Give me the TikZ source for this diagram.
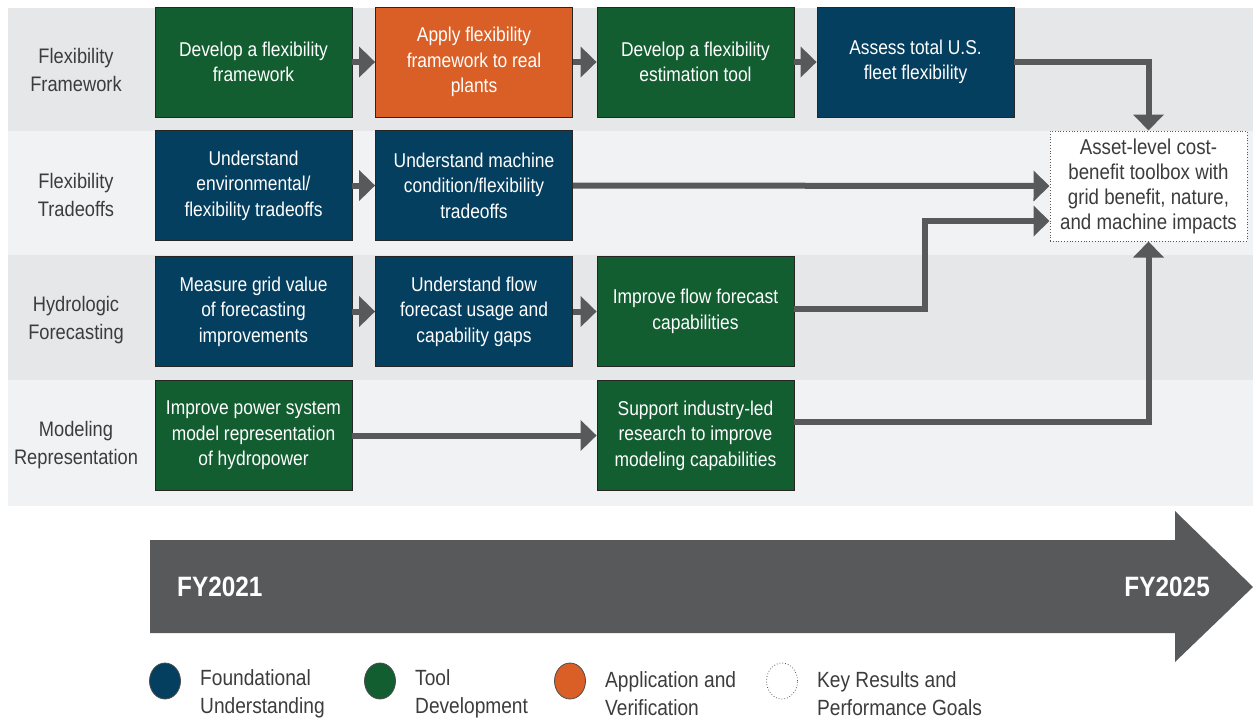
\documentclass[tikz,border=0pt]{standalone}
\usepackage{fontspec}
\setmainfont{Liberation Sans}[FakeStretch=0.87]
\usetikzlibrary{arrows.meta,shapes}
\definecolor{bandDark}{HTML}{E6E7E9}
\definecolor{bandLight}{HTML}{F1F2F4}
\definecolor{foundBlue}{HTML}{053F5F}
\definecolor{toolGreen}{HTML}{125E31}
\definecolor{applyOrange}{HTML}{D95F27}
\definecolor{flowGray}{HTML}{58595B}
\definecolor{textGray}{HTML}{3C3C3C}

\begin{document}
\begin{tikzpicture}[x=1pt, y=-1pt,
		task/.style={draw=black!85, line width=0.8pt, minimum width=197pt, minimum height=110pt, inner sep=0pt, align=center, text=white, font=\fontsize{20}{25.5}\selectfont},
		found/.style={task, fill=foundBlue},
		tool/.style={task, fill=toolGreen},
		apply/.style={task, fill=applyOrange},
		goal/.style={task, fill=white, draw=flowGray, dotted, line width=1pt, text=textGray, font=\fontsize{21.5}{25}\selectfont},
		rowlabel/.style={align=center, text=textGray, font=\fontsize{21}{28}\selectfont},
		flow/.style={draw=flowGray, line width=6pt, -{Triangle[length=16pt,width=30pt]}},
		dot/.style={ellipse, minimum width=31pt, minimum height=36pt, inner sep=0pt, draw=black!70, line width=0.8pt},
		keytext/.style={anchor=west, align=left, text=textGray, font=\fontsize{22}{28}\selectfont, inner sep=0pt},
		year/.style={text=white, inner sep=0pt, font=\fontsize{28}{30}\selectfont\bfseries}
	]
		\useasboundingbox (0,0) rectangle (1253,721);
		\fill[bandDark] (8,8) rectangle (1253,131);
		\fill[bandLight] (8,131) rectangle (1253,255);
		\fill[bandDark] (8,255) rectangle (1253,380);
		\fill[bandLight] (8,380) rectangle (1253,506);

		\node[rowlabel] (FrameworkLabel) at (76,70) {Flexibility\\Framework};
		\node[rowlabel] (TradeoffsLabel) at (76,195) {Flexibility\\Tradeoffs};
		\node[rowlabel] (ForecastLabel) at (76,320) {Hydrologic\\Forecasting};
		\node[rowlabel] (ModelingLabel) at (76,445) {Modeling\\Representation};

		\node[tool] (DevelopFramework) at (253.5,62) {Develop a flexibility\\framework};
		\node[apply] (ApplyFramework) at (474,62) {Apply flexibility\\framework to real\\plants};
		\node[tool] (EstimationTool) at (695.5,62) {Develop a flexibility\\estimation tool};
		\node[found] (AssessFleet) at (915.5,62) {Assess total U.S.\\fleet flexibility};

		\node[found] (EnvTradeoffs) at (253.5,185.5) {Understand\\environmental/\\flexibility tradeoffs};
		\node[found] (MachineTradeoffs) at (474,185.5) {Understand machine\\condition/flexibility\\tradeoffs};

		\node[found] (GridValue) at (253.5,311.5) {Measure grid value\\of forecasting\\improvements};
		\node[found] (FlowUsage) at (474,311.5) {Understand flow\\forecast usage and\\capability gaps};
		\node[tool] (FlowForecast) at (695.5,311.5) {Improve flow forecast\\capabilities};

		\node[tool] (PowerModel) at (253.5,435.5) {Improve power system\\model representation\\of hydropower};
		\node[tool] (SupportIndustry) at (695.5,435.5) {Support industry-led\\research to improve\\modeling capabilities};

		\node[goal] (Toolbox) at (1148.5,186) {Asset-level cost-\\benefit toolbox with\\grid benefit, nature,\\and machine impacts};

		\draw[flow] (DevelopFramework) -- (ApplyFramework);
		\draw[flow] (ApplyFramework) -- (EstimationTool);
		\draw[flow] (EstimationTool) -- (AssessFleet);
		\draw[flow] (EnvTradeoffs) -- (MachineTradeoffs);
		\draw[flow] (GridValue) -- (FlowUsage);
		\draw[flow] (FlowUsage) -- (FlowForecast);
		\draw[flow] (PowerModel) -- (SupportIndustry);

		\draw[flow] (AssessFleet.east) -| (Toolbox.north);
		\draw[flow] (MachineTradeoffs.east) -- (Toolbox.west);
		\draw[flow] ([yshift=3pt]FlowForecast.east) -- ++(131,0) |- ([yshift=-35pt]Toolbox.west);
		\draw[flow] ([yshift=14pt]SupportIndustry.east) -| (Toolbox.south);

		\fill[flowGray] (150,540) -- (1175,540) -- (1175,511) -- (1253,587) -- (1175,662) -- (1175,633) -- (150,633) -- cycle;
		\node[year, anchor=west] (StartYear) at (177,587) {FY2021};
		\node[year, anchor=east] (EndYear) at (1210,587) {FY2025};

		\node[dot, fill=foundBlue] (FoundDot) at (165,681) {};
		\node[keytext] (FoundKey) at (200,694) {Foundational\\Understanding};
		\node[dot, fill=toolGreen] (ToolDot) at (380,681) {};
		\node[keytext] (ToolKey) at (415,694) {Tool\\Development};
		\node[dot, fill=applyOrange] (ApplyDot) at (570,681) {};
		\node[keytext] (ApplyKey) at (605,694) {Application and\\Verification};
		\node[dot, fill=white, draw=flowGray, dotted] (GoalDot) at (782,681) {};
		\node[keytext] (GoalKey) at (817,694) {Key Results and\\Performance Goals};
\end{tikzpicture}
\end{document}
